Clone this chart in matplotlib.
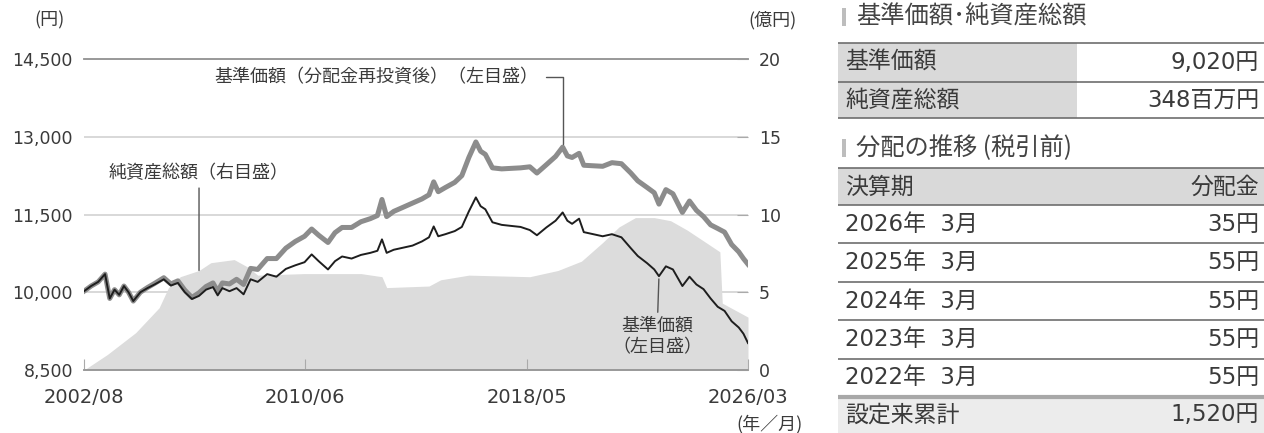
import matplotlib
matplotlib.use('Agg')
import matplotlib.pyplot as plt
import pandas as pd
from matplotlib.patches import Rectangle

plt.rcParams['font.family'] = ['Noto Sans CJK JP', 'DejaVu Sans']
NUM_FONT = ['DejaVu Sans', 'Noto Sans CJK JP']

# 基準価額 / 基準価額(分配金再投資後) (円)
nav_dates = ['2002-08', '2002-11', '2003-02', '2003-05', '2003-07', '2003-09', '2003-11', '2004-01',
             '2004-03', '2004-05', '2004-08', '2004-11', '2005-02', '2005-06', '2005-09', '2005-12',
             '2006-03', '2006-06', '2006-09', '2006-12', '2007-03', '2007-05', '2007-07', '2007-10',
             '2008-01', '2008-04', '2008-07', '2008-10', '2009-02', '2009-06', '2009-10', '2010-02',
             '2010-06', '2010-09', '2010-12', '2011-04', '2011-07', '2011-10', '2012-02', '2012-06',
             '2012-10', '2013-01', '2013-03', '2013-05', '2013-08', '2013-12', '2014-04', '2014-08',
             '2014-11', '2015-01', '2015-03', '2015-06', '2015-10', '2016-01', '2016-04', '2016-07',
             '2016-09', '2016-11', '2017-02', '2017-06', '2017-10', '2018-02', '2018-06', '2018-09',
             '2019-01', '2019-05', '2019-08', '2019-10', '2019-12', '2020-03', '2020-05', '2020-09',
             '2021-01', '2021-05', '2021-09', '2022-01', '2022-04', '2022-08', '2022-11', '2023-01',
             '2023-04', '2023-07', '2023-11', '2024-02', '2024-05', '2024-08', '2024-11', '2025-02',
             '2025-05', '2025-08', '2025-11', '2026-01', '2026-03']
nav = [10020, 10120, 10200, 10350, 9880, 10050, 9950, 10120,
       10000, 9830, 10000, 10080, 10150, 10250, 10130, 10180,
       10000, 9870, 9930, 10050, 10100, 9940, 10080, 10020,
       10080, 9960, 10250, 10200, 10350, 10300, 10450, 10520,
       10580, 10730, 10600, 10440, 10600, 10690, 10650, 10720,
       10760, 10800, 11020, 10760, 10820, 10860, 10900, 10980,
       11060, 11270, 11080, 11120, 11180, 11260, 11560, 11830,
       11660, 11600, 11350, 11300, 11280, 11260, 11200, 11100,
       11250, 11380, 11540, 11380, 11320, 11420, 11160, 11120,
       11080, 11120, 11060, 10850, 10700, 10560, 10440, 10310,
       10500, 10440, 10120, 10300, 10150, 10060, 9880, 9720,
       9640, 9440, 9320, 9200, 9020]
nav_reinv = [10020, 10120, 10200, 10350, 9880, 10050, 9950, 10120,
             10000, 9830, 10000, 10090, 10170, 10280, 10160, 10220,
             10040, 9900, 9990, 10110, 10180, 10020, 10180, 10160,
             10250, 10150, 10460, 10440, 10650, 10650, 10850, 10980,
             11080, 11220, 11100, 10960, 11150, 11250, 11250, 11360,
             11420, 11480, 11790, 11460, 11560, 11640, 11720, 11800,
             11880, 12130, 11940, 12020, 12120, 12250, 12600, 12900,
             12720, 12660, 12400, 12380, 12390, 12400, 12420, 12300,
             12460, 12620, 12800, 12630, 12600, 12680, 12450, 12440,
             12430, 12500, 12480, 12300, 12150, 12020, 11920, 11700,
             11980, 11900, 11540, 11760, 11580, 11460, 11300, 11230,
             11160, 10920, 10780, 10650, 10540]

# 純資産総額 (億円)
asset_dates = ['2002-08', '2003-06', '2004-06', '2005-04', '2005-08', '2006-01', '2006-09', '2007-02',
               '2007-12', '2008-06', '2008-10', '2010-06', '2012-06', '2013-03', '2013-05', '2014-11',
               '2015-04', '2016-04', '2018-06', '2019-06', '2020-04', '2021-01', '2021-08', '2022-03',
               '2022-11', '2023-06', '2024-01', '2024-10', '2025-03', '2025-04', '2026-03']
assets = [0.0, 1.0, 2.4, 4.0, 5.3, 6.0, 6.4, 6.9,
          7.1, 6.6, 6.1, 6.2, 6.2, 6.0, 5.3, 5.4,
          5.8, 6.1, 6.0, 6.4, 7.0, 8.2, 9.2, 9.8,
          9.8, 9.6, 9.0, 8.1, 7.6, 4.3, 3.4]

xtick_dates = ['2002-08', '2010-06', '2018-05', '2026-03']
xtick_labels = ['2002/08', '2010/06', '2018/05', '2026/03']
left_ticks = [8500, 10000, 11500, 13000, 14500]
right_ticks = [0, 5, 10, 15, 20]

summary_labels = ['基準価額', '純資産総額']
summary_values = ['9,020円', '348百万円']
dist_periods = ['2026年  3月', '2025年  3月', '2024年  3月', '2023年  3月', '2022年  3月']
dist_values = ['35円', '55円', '55円', '55円', '55円']
dist_total = '1,520円'

TXT = '#3a3a3a'

nav_x = pd.to_datetime(nav_dates)
asset_x = pd.to_datetime(asset_dates)

fig = plt.figure(figsize=(12.64, 4.33), dpi=100)
ax = fig.add_axes([84 / 1264, 1 - 370 / 433, (748 - 84) / 1264, (370 - 59) / 433])
ax2 = ax.twinx()
ax.set_zorder(ax2.get_zorder() + 1)
ax.patch.set_visible(False)
ax2.set_facecolor('#f3f3f3')

# net assets area (right scale)
ax2.set_axisbelow(True)
ax2.fill_between(asset_x, assets, 0, color='#dcdcdc', lw=0, zorder=1)
ax2.set_ylim(0, 20)
ax2.set_yticks(right_ticks)
ax2.yaxis.grid(True, color='#d2d2d2', lw=1.2)
ax2.tick_params(axis='y', direction='in', length=8, color='#aaaaaa', pad=8, labelcolor=TXT)
for t in ax2.get_yticklabels():
    t.set_family(NUM_FONT)
    t.set_fontsize(12.5)

ax.plot(nav_x, nav_reinv, color='#8c8c8c', lw=3.6, solid_joinstyle='round', zorder=3)
ax.plot(nav_x, nav, color='#1e1e1e', lw=1.4, zorder=4)
ax.set_ylim(8500, 14500)
ax.set_yticks(left_ticks)
ax.set_yticklabels([f'{v:,}' for v in left_ticks], family=NUM_FONT, fontsize=12.5)
ax.tick_params(axis='y', length=0, pad=8, labelcolor=TXT)
ax.set_xlim(pd.Timestamp('2002-08-01'), pd.Timestamp('2026-03-01'))
ax.set_xticks(pd.to_datetime(xtick_dates))
ax.set_xticklabels(xtick_labels, family=NUM_FONT, fontsize=14)
ax.tick_params(axis='x', direction='in', length=8, color='#aaaaaa', pad=13, labelcolor=TXT)

for a in (ax, ax2):
    a.spines['left'].set_visible(False)
    a.spines['right'].set_visible(False)
    a.spines['top'].set_color('#999999')
    a.spines['bottom'].set_color('#999999')
    a.spines['top'].set_linewidth(1.2)
    a.spines['bottom'].set_linewidth(1.2)

# annotations
peak_i = nav_dates.index('2019-08')
ax.annotate('基準価額（分配金再投資後）（左目盛）', xy=(nav_x[peak_i], nav_reinv[peak_i]),
            xytext=(-24, 70), textcoords='offset pixels', ha='right', va='center',
            fontsize=13, color=TXT,
            arrowprops=dict(arrowstyle='-', color='#555555', lw=1,
                            connectionstyle='angle,angleA=0,angleB=90,rad=0', shrinkA=3, shrinkB=2))
asset_i = asset_dates.index('2006-09')
ax2.annotate('純資産総額（右目盛）', xy=(asset_x[asset_i], assets[asset_i]),
             xytext=(0, 97), textcoords='offset pixels', ha='center', va='center',
             fontsize=13, color=TXT,
             arrowprops=dict(arrowstyle='-', color='#555555', lw=1, shrinkA=2, shrinkB=0))
dip_i = nav_dates.index('2023-01')
ax.annotate('基準価額\n（左目盛）', xy=(nav_x[dip_i], nav[dip_i]),
            xytext=(-2, -60), textcoords='offset pixels', ha='center', va='center',
            fontsize=13, color=TXT, linespacing=1.25,
            arrowprops=dict(arrowstyle='-', color='#555555', lw=1, shrinkA=1, shrinkB=2))

fig.text(50 / 1264, 1 - 20 / 433, '(円)', ha='center', va='center', fontsize=13, color=TXT)
fig.text(773 / 1264, 1 - 20 / 433, '(億円)', ha='center', va='center', fontsize=13, color=TXT)
fig.text(770 / 1264, 1 - 424 / 433, '(年／月)', ha='center', va='center', fontsize=13, color=TXT)

# right side tables, drawn in pixel coordinates
tb = fig.add_axes([820 / 1264, 0, 444 / 1264, 1])
tb.set_xlim(820, 1264)
tb.set_ylim(433, 0)
tb.axis('off')
L, R, MID = 838, 1264, 1077
FS = 16.5


def header(y, text):
    tb.add_patch(Rectangle((842, y - 9), 4, 18, color='#bdbdbd', lw=0))
    tb.text(856, y, text, ha='left', va='center', fontsize=17.5, color='#444444')


def cell(x, y, text, ha):
    tb.text(x, y, text, ha=ha, va='center', fontsize=FS, color=TXT, family=NUM_FONT)


def hline(y, lw=1.2, color='#6e6e6e'):
    tb.plot([L, R], [y, y], color=color, lw=lw, solid_capstyle='butt')


header(17, '基準価額･純資産総額')
rows1 = [(43, 82), (82, 118)]
for (y0, y1), lab, val in zip(rows1, summary_labels, summary_values):
    tb.add_patch(Rectangle((L, y0), MID - L, y1 - y0, color='#d9d9d9', lw=0))
    cell(845, (y0 + y1) / 2, lab, 'left')
    cell(1259, (y0 + y1) / 2, val, 'right')
for y in (43, 82, 118):
    hline(y)

header(148, '分配の推移 (税引前)')
tb.add_patch(Rectangle((L, 168), R - L, 37, color='#d9d9d9', lw=0))
cell(845, 187, '決算期', 'left')
cell(1259, 187, '分配金', 'right')
hline(168)
hline(205)
row_h = 38.4
for i, (per, val) in enumerate(zip(dist_periods, dist_values)):
    y0 = 205 + i * row_h
    cell(845, y0 + row_h / 2, per, 'left')
    cell(1259, y0 + row_h / 2, val, 'right')
    if i < len(dist_periods) - 1:
        hline(y0 + row_h)
y_tot = 205 + len(dist_periods) * row_h
tb.add_patch(Rectangle((L, y_tot), R - L, 433 - y_tot, color='#ececec', lw=0))
hline(y_tot, lw=3, color='#a8a8a8')
cell(845, (y_tot + 433) / 2, '設定来累計', 'left')
cell(1259, (y_tot + 433) / 2, dist_total, 'right')

fig.savefig('out.png', dpi=100)
